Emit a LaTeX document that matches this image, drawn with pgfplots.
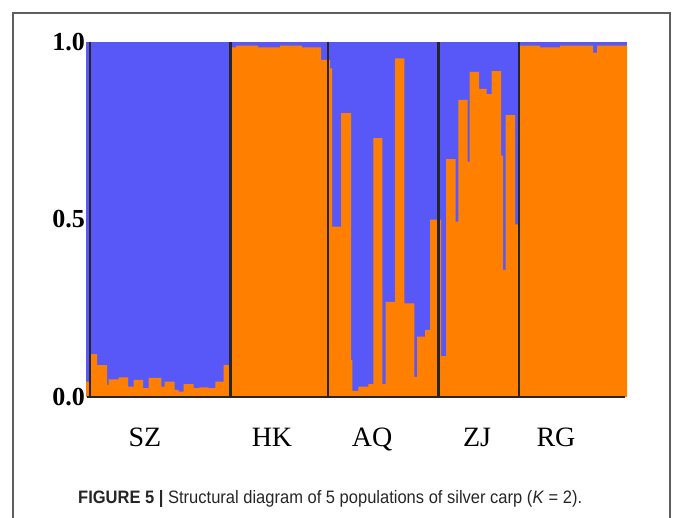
\documentclass[border=0pt]{standalone}
\usepackage{pgfplots}
\pgfplotsset{compat=1.18}
\usepackage{graphicx}
\usepackage{fontspec}
\setmainfont{Liberation Serif}
\newfontfamily\capfont{Liberation Sans}
\definecolor{sblue}{RGB}{88,88,248}
\definecolor{sorange}{RGB}{255,128,0}
\definecolor{frame}{RGB}{95,95,95}
\begin{document}
\begin{tikzpicture}
\path[use as bounding box] (0bp,0bp) rectangle (673bp,-518bp);
\draw[frame, line width=1.3bp] (13bp,-518bp) -- (13bp,-13bp) -- (670bp,-13bp) -- (670bp,-518bp);
\begin{axis}[
  at={(86bp,-397bp)}, anchor=south west,
  scale only axis, width=541bp, height=355bp,
  xmin=86, xmax=627, ymin=0, ymax=1,
  axis line style={draw=none},
  major tick length=0pt,
  clip=false,
  ytick={0,0.5,1},
  yticklabels={\textbf{0.0},\textbf{0.5},\textbf{1.0}},
  yticklabel style={font=\fontsize{26bp}{30bp}\selectfont, inner sep=1bp},
  xtick={145,272,372,477,556},
  xticklabels={SZ,HK,AQ,ZJ,RG},
  xticklabel style={font=\fontsize{28bp}{32bp}\selectfont, anchor=base, inner sep=0pt, yshift=-49bp},
]
% membership of cluster 1 (blue) as background
\addplot[fill=sblue, draw=none] coordinates {(86,1) (627,1)} \closedcycle;
% membership of cluster 2 (orange), one step per individual group
\addplot[fill=sorange, draw=none, const plot] coordinates {
 (86,0.043) (91,0.121) (97,0.090) (107,0.034) (108.7,0.050) (118.7,0.055)
 (128,0.029) (133.7,0.048) (143,0.025) (148.7,0.054) (161.3,0.029)
 (164.7,0.043) (174.7,0.020) (178.7,0.015) (183.7,0.036) (193.7,0.025)
 (199.3,0.027) (208.7,0.025) (215.3,0.043) (223.7,0.090)
 (229,0.985) (236,0.99) (258,0.985) (280,0.99) (302,0.985) (321,0.95)
 (330,0.926) (332,0.48) (341,0.80) (351,0.104) (352.3,0.017) (358.3,0.029)
 (368.3,0.036) (373.3,0.729) (382.3,0.036) (385.7,0.268) (395,0.954)
 (404.3,0.264) (414.3,0.057) (417,0.17) (425,0.189) (430,0.50)
 (441,0.115) (446,0.67) (455.7,0.494) (458.3,0.837) (467.7,0.663)
 (469.7,0.916) (479,0.868) (486.7,0.853) (491.7,0.918) (501,0.68)
 (503,0.358) (505.7,0.794) (515,0.486)
 (520,0.99) (540,0.985) (560,0.99) (593,0.97) (597,0.99) (627,0.99)
} \closedcycle;
% population separators
\addplot[black!85, line width=2.8bp] coordinates {(90,0) (90,1)};
\addplot[black!85, line width=2.8bp] coordinates {(230.5,0) (230.5,1)};
\addplot[black!85, line width=2.8bp] coordinates {(328,0) (328,1)};
\addplot[black!85, line width=2.8bp] coordinates {(438.5,0) (438.5,1)};
\addplot[black!85, line width=2.8bp] coordinates {(519,0) (519,1)};
% baseline
\addplot[black!85, line width=2.4bp] coordinates {(87,0) (625,0)};
\end{axis}
\node[anchor=base west, inner sep=0pt] at (78bp,-503bp)
  {\resizebox{504bp}{\height}{\capfont\fontsize{18bp}{21bp}\selectfont\color{black!85}\textbf{FIGURE 5 |} Structural diagram of 5 populations of silver carp (\textit{K} = 2).}};
\end{tikzpicture}
\end{document}
